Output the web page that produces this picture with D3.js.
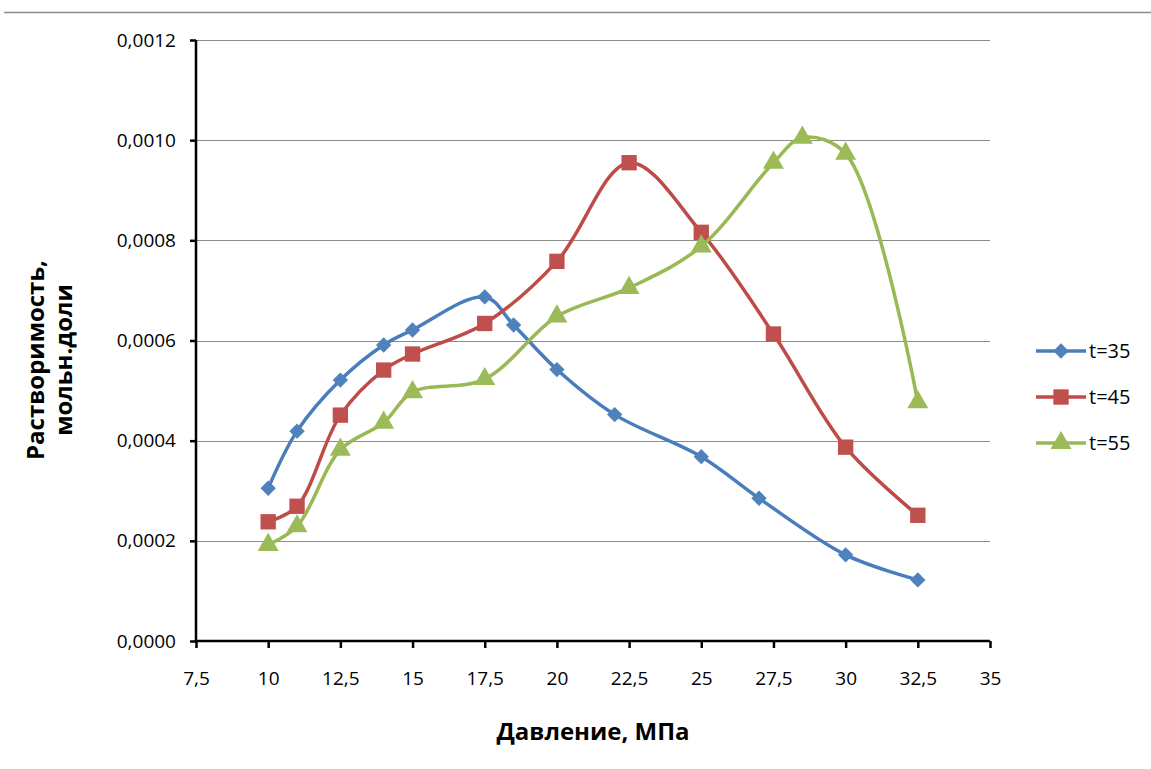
<!DOCTYPE html>
<html>
<head>
<meta charset="utf-8">
<script src="https://cdn.jsdelivr.net/npm/d3@7"></script>
<style>
  body { margin: 0; background: #fff; }
  svg text { font-family: "Open Sans", "Noto Sans", sans-serif; fill: #000; }
</style>
</head>
<body>
<div id="chart"></div>
<script>
let WIDTH = 1151;
let HEIGHT = 769;

// давление, МПа
let x35 = [10, 11, 12.5, 14, 15, 17.5, 18.5, 20, 22, 25, 27, 30, 32.5];
let y35 = [0.000305, 0.000419, 0.000521, 0.000591, 0.000621, 0.000687, 0.000631, 0.000542, 0.000452, 0.000368, 0.000285, 0.000172, 0.000122];

let x45 = [10, 11, 12.5, 14, 15, 17.5, 20, 22.5, 25, 27.5, 30, 32.5];
let y45 = [0.000238, 0.000269, 0.000451, 0.000541, 0.000573, 0.000634, 0.000758, 0.000955, 0.000816, 0.000613, 0.000387, 0.000251];

let x55 = [10, 11, 12.5, 14, 15, 17.5, 20, 22.5, 25, 27.5, 28.5, 30, 32.5];
let y55 = [0.000192, 0.000229, 0.000382, 0.000436, 0.000497, 0.000523, 0.000648, 0.000705, 0.000788, 0.000955, 0.001005, 0.000973, 0.000477];

let seriesNames = ['t=35', 't=45', 't=55'];
let xTicks = [7.5, 10, 12.5, 15, 17.5, 20, 22.5, 25, 27.5, 30, 32.5, 35];
let yTicks = [0, 0.0002, 0.0004, 0.0006, 0.0008, 0.001, 0.0012];

let series = [
	{name: seriesNames[0], xs: x35, ys: y35, line: '#4a7ebb', fill: '#4f81bd', symbol: d3.symbolDiamond2, size: 150},
	{name: seriesNames[1], xs: x45, ys: y45, line: '#be4b48', fill: '#c0504d', symbol: d3.symbolSquare2, size: 300},
	{name: seriesNames[2], xs: x55, ys: y55, line: '#98b954', fill: '#9bbb59', symbol: d3.symbolTriangle, size: 190}
];

let margin = {left: 196, top: 40, right: 161, bottom: 128};

let svg = d3.select('#chart').append('svg')
	.attr('width', WIDTH)
	.attr('height', HEIGHT);

// top rule
svg.append('line')
	.attr('x1', 4).attr('x2', WIDTH)
	.attr('y1', 12.5).attr('y2', 12.5)
	.attr('stroke', '#8c8c8c')
	.attr('stroke-width', 1.5);

let x = d3.scaleLinear()
	.domain([7.5, 35])
	.range([margin.left, WIDTH - margin.right]);

let y = d3.scaleLinear()
	.domain([0, 0.0012])
	.range([HEIGHT - margin.bottom, margin.top]);

let fmtY = (d) => d3.format('.4f')(d).replace('.', ',');
let fmtX = (d) => String(d).replace('.', ',');

// gridlines
svg.append('g')
	.selectAll('line')
	.data(yTicks.slice(1))
	.enter().append('line')
	.attr('x1', x(7.5)).attr('x2', x(35))
	.attr('y1', (d) => Math.round(y(d)) + 0.5)
	.attr('y2', (d) => Math.round(y(d)) + 0.5)
	.attr('stroke', '#8c8c8c')
	.attr('stroke-width', 1.2);

// axes
let yAxis = svg.append('g')
	.attr('transform', `translate(${x(7.5)},0)`)
	.call(d3.axisLeft(y).tickValues(yTicks).tickFormat(fmtY).tickSize(6).tickPadding(14));

let xAxis = svg.append('g')
	.attr('transform', `translate(0,${y(0)})`)
	.call(d3.axisBottom(x).tickValues(xTicks).tickFormat(fmtX).tickSize(7).tickPadding(24));

[xAxis, yAxis].forEach((a) => {
	a.select('.domain').attr('stroke', '#000').attr('stroke-width', 2.5);
	a.selectAll('.tick line').attr('stroke', '#000').attr('stroke-width', 2.5);
	a.selectAll('.tick text')
		.style('font-family', '"Open Sans", sans-serif')
		.style('font-size', '19px')
		.attr('fill', '#000');
});
xAxis.select('.domain').attr('d', `M${x(7.5)},0H${x(35)}`);
yAxis.select('.domain').attr('d', `M0,${y(0)}V${y(0.0012)}`);

// lines
let line = d3.line()
	.x((d) => x(d[0]))
	.y((d) => y(d[1]))
	.curve(d3.curveCatmullRom.alpha(0.5));

let plot = svg.append('g');
series.forEach((s) => {
	let pts = s.xs.map((v, i) => [v, s.ys[i]]);
	plot.append('path')
		.datum(pts)
		.attr('d', line)
		.attr('fill', 'none')
		.attr('stroke', s.line)
		.attr('stroke-width', 3.5)
		.attr('stroke-linejoin', 'round');
	plot.append('g')
		.selectAll('path')
		.data(pts)
		.enter().append('path')
		.attr('transform', (d) => `translate(${x(d[0])},${y(d[1])})`)
		.attr('d', d3.symbol().type(s.symbol).size(s.size))
		.attr('fill', s.fill);
});

// legend
let legend = svg.append('g').attr('transform', 'translate(1036,351)');
series.forEach((s, i) => {
	let g = legend.append('g').attr('transform', `translate(0,${i * 46})`);
	g.append('line')
		.attr('x1', 0).attr('x2', 50)
		.attr('stroke', s.line)
		.attr('stroke-width', 3.5);
	g.append('path')
		.attr('transform', 'translate(25,0)')
		.attr('d', d3.symbol().type(s.symbol).size(s.size))
		.attr('fill', s.fill);
	g.append('text')
		.attr('x', 53)
		.attr('dy', '0.35em')
		.style('font-size', '20px')
		.text(s.name);
});

// axis titles
svg.append('text')
	.attr('x', (x(7.5) + x(35)) / 2)
	.attr('y', 740)
	.attr('text-anchor', 'middle')
	.style('font-size', '24px')
	.style('font-weight', 'bold')
	.text('Давление, МПа');

let yTitle = svg.append('text')
	.attr('transform', 'translate(49,360) rotate(-90)')
	.attr('text-anchor', 'middle')
	.style('font-size', '24px')
	.style('font-weight', 'bold');
yTitle.append('tspan').attr('x', 0).attr('dy', '-0.2em').text('Растворимость,');
yTitle.append('tspan').attr('x', 0).attr('dy', '1.15em').text('мольн.доли');
</script>
</body>
</html>
